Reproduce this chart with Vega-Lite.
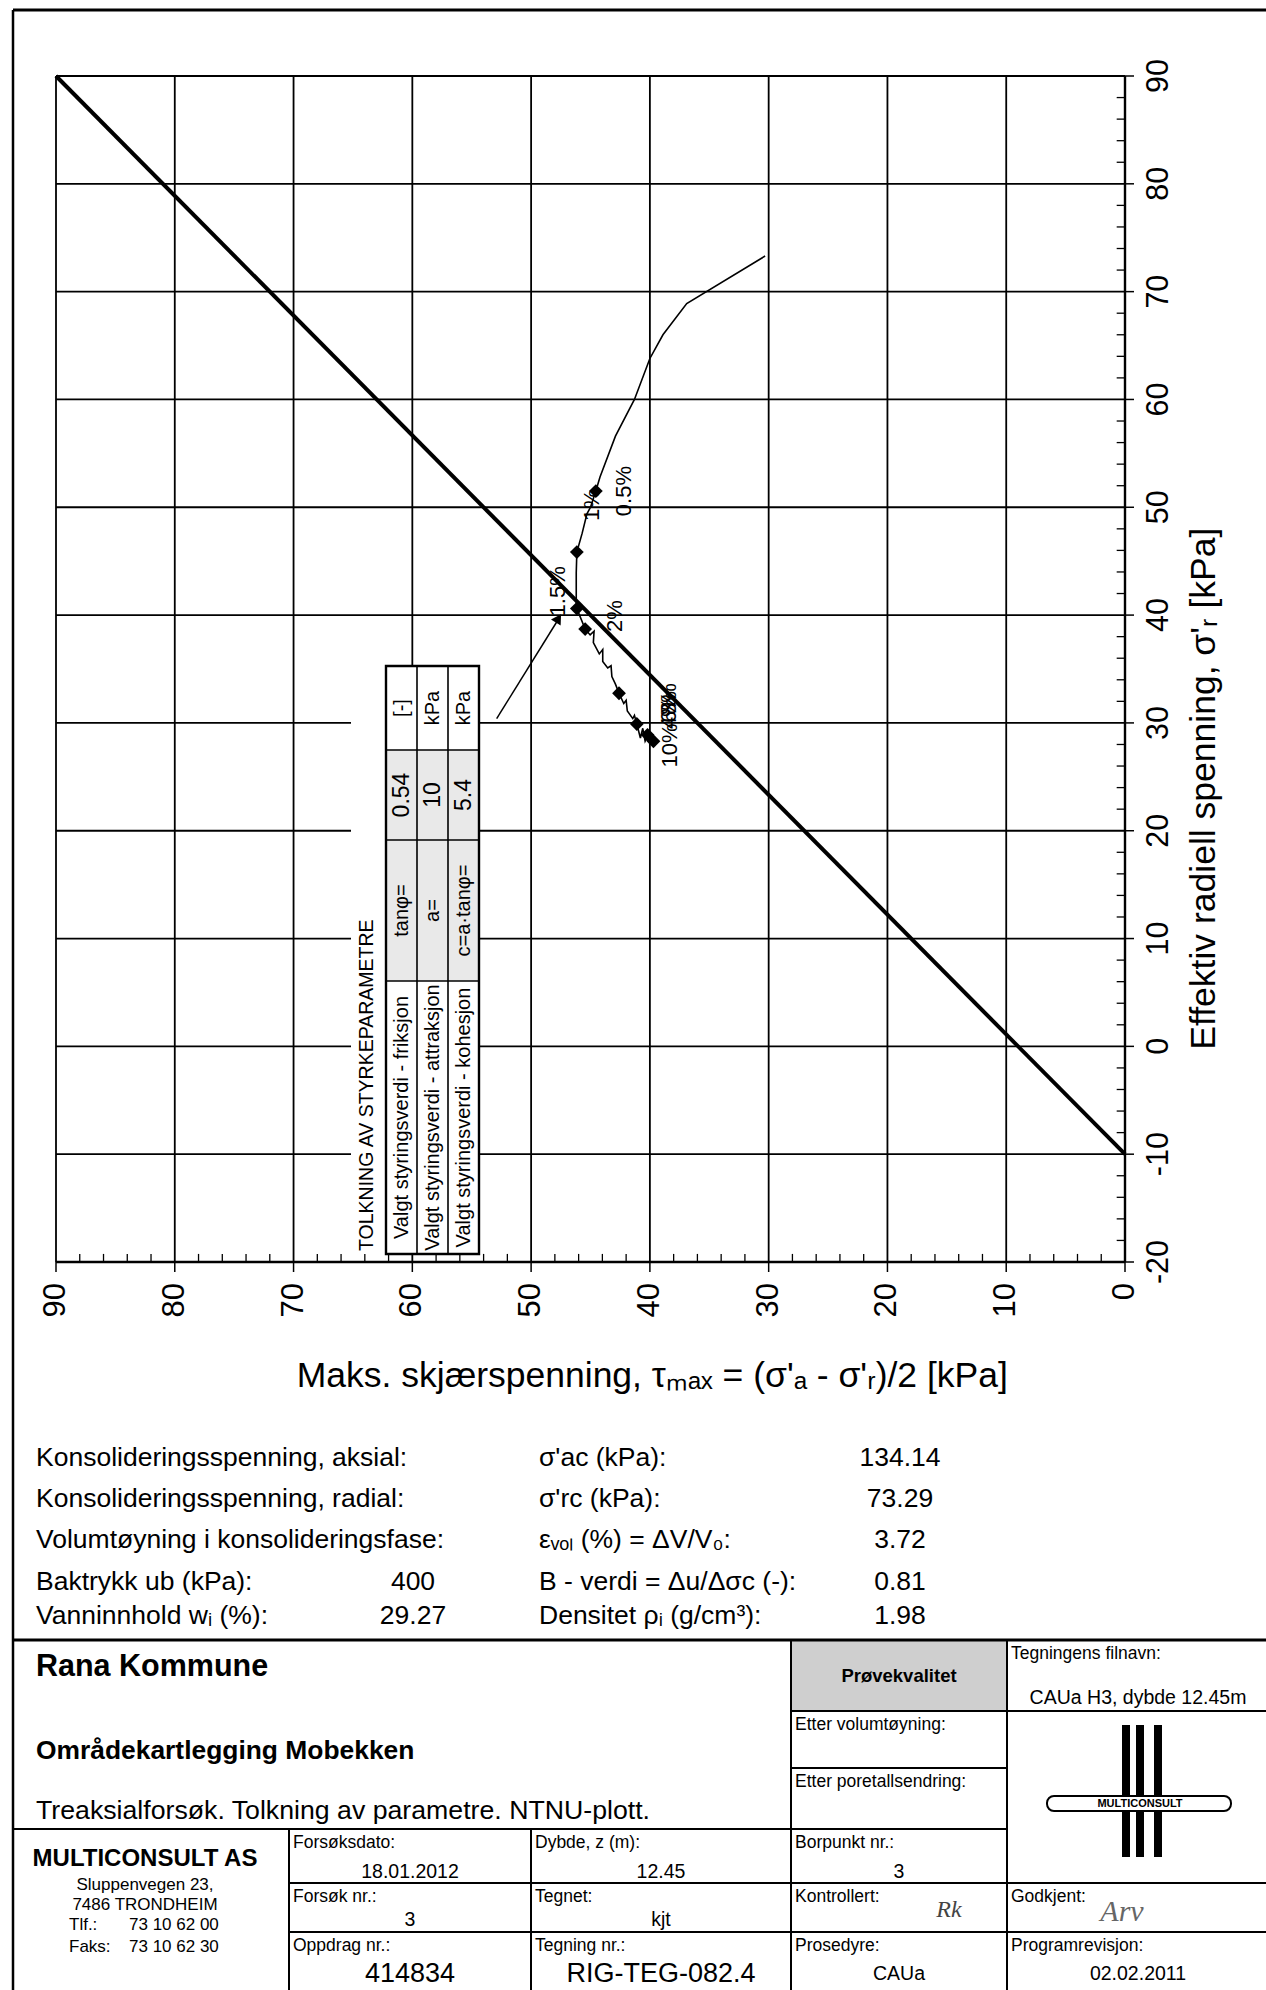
{
"$schema": "https://vega.github.io/schema/vega-lite/v6.json",
"width": 1266, "height": 1990, "autosize": {"type": "none"}, "padding": 0, "background": "white",
"config": {"view": {"stroke": null}, "font": "Liberation Sans", "text": {"font": "Liberation Sans", "color": "black"}},
"datasets": {
"gx": [{"tau":0},{"tau":10},{"tau":20},{"tau":30},{"tau":40},{"tau":50},{"tau":60},{"tau":70},{"tau":80},{"tau":90}],
"gy": [{"sig":-20},{"sig":-10},{"sig":0},{"sig":10},{"sig":20},{"sig":30},{"sig":40},{"sig":50},{"sig":60},{"sig":70},{"sig":80},{"sig":90}],
"mx": [{"tau":2},{"tau":4},{"tau":6},{"tau":8},{"tau":12},{"tau":14},{"tau":16},{"tau":18},{"tau":22},{"tau":24},{"tau":26},{"tau":28},{"tau":32},{"tau":34},{"tau":36},{"tau":38},{"tau":42},{"tau":44},{"tau":46},{"tau":48},{"tau":52},{"tau":54},{"tau":56},{"tau":58},{"tau":62},{"tau":64},{"tau":66},{"tau":68},{"tau":72},{"tau":74},{"tau":76},{"tau":78},{"tau":82},{"tau":84},{"tau":86},{"tau":88}],
"my": [{"sig":-18},{"sig":-16},{"sig":-14},{"sig":-12},{"sig":-8},{"sig":-6},{"sig":-4},{"sig":-2},{"sig":2},{"sig":4},{"sig":6},{"sig":8},{"sig":12},{"sig":14},{"sig":16},{"sig":18},{"sig":22},{"sig":24},{"sig":26},{"sig":28},{"sig":32},{"sig":34},{"sig":36},{"sig":38},{"sig":42},{"sig":44},{"sig":46},{"sig":48},{"sig":52},{"sig":54},{"sig":56},{"sig":58},{"sig":62},{"sig":64},{"sig":66},{"sig":68},{"sig":72},{"sig":74},{"sig":76},{"sig":78},{"sig":82},{"sig":84},{"sig":86},{"sig":88}],
"envelope": [{"tau":90,"sig":90},{"tau":0,"sig":-10}],
"path": [{"tau":30.3,"sig":73.3},{"tau":36.9,"sig":68.9},{"tau":38.9,"sig":66.0},{"tau":40.0,"sig":63.8},{"tau":41.3,"sig":60.0},{"tau":42.9,"sig":56.6},{"tau":44.2,"sig":52.8},{"tau":44.55,"sig":51.5},{"tau":45.0,"sig":50.0},{"tau":45.3,"sig":49.4},{"tau":45.7,"sig":47.6},{"tau":46.15,"sig":45.85},{"tau":46.2,"sig":43.9},{"tau":46.2,"sig":41.4},{"tau":46.15,"sig":40.6},{"tau":45.45,"sig":38.7},{"tau":45.03,"sig":38.16},{"tau":44.7,"sig":38.5},{"tau":44.76,"sig":37.45},{"tau":44.26,"sig":36.4},{"tau":43.97,"sig":36.8},{"tau":43.97,"sig":35.7},{"tau":43.55,"sig":35.1},{"tau":43.27,"sig":35.3},{"tau":43.2,"sig":34.3},{"tau":42.9,"sig":33.6},{"tau":42.6,"sig":32.75},{"tau":42.2,"sig":31.8},{"tau":42.0,"sig":32.1},{"tau":41.9,"sig":31.1},{"tau":41.44,"sig":30.4},{"tau":41.3,"sig":30.7},{"tau":41.1,"sig":29.9},{"tau":40.8,"sig":28.6},{"tau":40.6,"sig":29.5},{"tau":40.4,"sig":28.3},{"tau":40.1,"sig":29.0},{"tau":39.7,"sig":28.3}],
"diamonds": [{"tau":44.55,"sig":51.5},{"tau":46.15,"sig":45.85},{"tau":46.15,"sig":40.6},{"tau":45.45,"sig":38.7},{"tau":42.6,"sig":32.75},{"tau":41.1,"sig":29.9},{"tau":40.2,"sig":28.9},{"tau":39.7,"sig":28.3}],
"strain": [{"tau":42.2,"sig":51.5,"t":"0.5%"},{"tau":44.9,"sig":50.2,"t":"1%"},{"tau":47.7,"sig":42.2,"t":"1.5%"},{"tau":42.9,"sig":39.9,"t":"2%"},{"tau":38.4,"sig":30.9,"t":"4%"},{"tau":38.4,"sig":31.5,"t":"6%"},{"tau":38.4,"sig":32.2,"t":"8%"},{"tau":38.3,"sig":27.9,"t":"10%"}],
"arrow": [{"tau":52.9,"sig":30.4},{"tau":47.6,"sig":39.8}],
"arrowhead": [{"tau":47.7,"sig":39.7}],
"xtitle": [{"t":"Maks. skjærspenning, τₘₐₓ = (σ'ₐ - σ'ᵣ)/2  [kPa]"}],
"ytitle": [{"t":"Effektiv radiell spenning,  σ'ᵣ [kPa]"}],
"ttext": [{"r":0,"c":0,"t":"TOLKNING AV STYRKEPARAMETRE"},
{"r":1,"c":1,"t":"Valgt styringsverdi - friksjon"},{"r":1,"c":2,"t":"tanφ="},{"r":1,"c":3,"t":"0.54"},{"r":1,"c":4,"t":"[-]"},
{"r":2,"c":1,"t":"Valgt styringsverdi - attraksjon"},{"r":2,"c":2,"t":"a="},{"r":2,"c":3,"t":"10"},{"r":2,"c":4,"t":"kPa"},
{"r":3,"c":1,"t":"Valgt styringsverdi - kohesjon"},{"r":3,"c":2,"t":"c=a·tanφ="},{"r":3,"c":3,"t":"5.4"},{"r":3,"c":4,"t":"kPa"}],
"params": [{"line":1,"c":0,"t":"Konsolideringsspenning, aksial:"},{"line":1,"c":2,"t":"σ'ac (kPa):"},{"line":1,"c":3,"t":"134.14"},
{"line":2,"c":0,"t":"Konsolideringsspenning, radial:"},{"line":2,"c":2,"t":"σ'rc (kPa):"},{"line":2,"c":3,"t":"73.29"},
{"line":3,"c":0,"t":"Volumtøyning i konsolideringsfase:"},{"line":3,"c":2,"t":"εᵥₒₗ (%) = ΔV/V₀:"},{"line":3,"c":3,"t":"3.72"},
{"line":4,"c":0,"t":"Baktrykk ub (kPa):"},{"line":4,"c":1,"t":"400"},{"line":4,"c":2,"t":"B - verdi = Δu/Δσc (-):"},{"line":4,"c":3,"t":"0.81"},
{"line":5,"c":0,"t":"Vanninnhold wᵢ (%):"},{"line":5,"c":1,"t":"29.27"},{"line":5,"c":2,"t":"Densitet ρᵢ (g/cm³):"},{"line":5,"c":3,"t":"1.98"}],
"cells": [{"cell":"prosjekt","c0":0,"c1":3,"r0":0,"r1":3,"label":""},
{"cell":"provekvalitet","c0":3,"c1":4,"r0":0,"r1":1,"label":""},
{"cell":"filnavn","c0":4,"c1":5,"r0":0,"r1":1,"label":"Tegningens filnavn:"},
{"cell":"volum","c0":3,"c1":4,"r0":1,"r1":2,"label":"Etter volumtøyning:"},
{"cell":"poretall","c0":3,"c1":4,"r0":2,"r1":3,"label":"Etter poretallsendring:"},
{"cell":"logo","c0":4,"c1":5,"r0":1,"r1":4,"label":""},
{"cell":"firma","c0":0,"c1":1,"r0":3,"r1":6,"label":""},
{"cell":"dato","c0":1,"c1":2,"r0":3,"r1":4,"label":"Forsøksdato:"},
{"cell":"dybde","c0":2,"c1":3,"r0":3,"r1":4,"label":"Dybde, z (m):"},
{"cell":"borpunkt","c0":3,"c1":4,"r0":3,"r1":4,"label":"Borpunkt nr.:"},
{"cell":"forsok","c0":1,"c1":2,"r0":4,"r1":5,"label":"Forsøk nr.:"},
{"cell":"tegnet","c0":2,"c1":3,"r0":4,"r1":5,"label":"Tegnet:"},
{"cell":"kontrollert","c0":3,"c1":4,"r0":4,"r1":5,"label":"Kontrollert:"},
{"cell":"godkjent","c0":4,"c1":5,"r0":4,"r1":5,"label":"Godkjent:"},
{"cell":"oppdrag","c0":1,"c1":2,"r0":5,"r1":6,"label":"Oppdrag nr.:"},
{"cell":"tegningnr","c0":2,"c1":3,"r0":5,"r1":6,"label":"Tegning nr.:"},
{"cell":"prosedyre","c0":3,"c1":4,"r0":5,"r1":6,"label":"Prosedyre:"},
{"cell":"programrev","c0":4,"c1":5,"r0":5,"r1":6,"label":"Programrevisjon:"}],
"vals": [{"c":3,"r":0,"t":"Prøvekvalitet","kind":"heading"},
{"c":4,"r":0,"t":"CAUa H3, dybde  12.45m","kind":"value"},
{"c":1,"r":3,"t":"18.01.2012","kind":"value"},
{"c":2,"r":3,"t":"12.45","kind":"value"},
{"c":3,"r":3,"t":"3","kind":"value"},
{"c":1,"r":4,"t":"3","kind":"value"},
{"c":2,"r":4,"t":"kjt","kind":"value"},
{"c":3,"r":4,"t":"Rk","kind":"sign1"},
{"c":4,"r":4,"t":"Arv","kind":"sign2"},
{"c":1,"r":5,"t":"414834","kind":"number"},
{"c":2,"r":5,"t":"RIG-TEG-082.4","kind":"number"},
{"c":3,"r":5,"t":"CAUa","kind":"value"},
{"c":4,"r":5,"t":"02.02.2011","kind":"value"}],
"info": [{"a":0,"line":1,"t":"Rana Kommune","kind":"h1"},
{"a":0,"line":2,"t":"Områdekartlegging Mobekken","kind":"h2"},
{"a":0,"line":3,"t":"Treaksialforsøk. Tolkning av parametre. NTNU-plott.","kind":"h3"},
{"a":3,"line":4,"t":"MULTICONSULT AS","kind":"firm"},
{"a":3,"line":5,"t":"Sluppenvegen 23,","kind":"addr"},
{"a":3,"line":6,"t":"7486  TRONDHEIM","kind":"addr"},
{"a":1,"line":7,"t":"Tlf.:","kind":"tel"},
{"a":2,"line":7,"t":"73 10 62 00","kind":"tel"},
{"a":1,"line":8,"t":"Faks:","kind":"tel"},
{"a":2,"line":8,"t":"73 10 62 30","kind":"tel"}],
"bars": [{"k":1},{"k":2},{"k":3}]
},
"layer": [
{
"layer": [
{"data":{"name":"gx"},"mark":{"type":"rule","color":"black","strokeWidth":1.8},
"encoding":{
"x":{"field":"tau","type":"quantitative","scale":{"domain":[0,90],"range":[1125,56],"nice":false,"zero":false},"axis":null},
"y":{"datum":-20,"type":"quantitative","scale":{"domain":[-20,90],"range":[1262,76],"nice":false,"zero":false},"axis":null},
"y2":{"datum":90}}},
{"data":{"name":"gy"},"mark":{"type":"rule","color":"black","strokeWidth":1.8},
"encoding":{"y":{"field":"sig","type":"quantitative","axis":null},"x":{"datum":0,"type":"quantitative","axis":null},"x2":{"datum":90}}},
{"data":{"values":[{}]},"mark":{"type":"rule","color":"black","strokeWidth":2.4},
"encoding":{"y":{"datum":-20,"type":"quantitative","axis":null},"x":{"datum":0,"type":"quantitative","axis":null},"x2":{"datum":90}}},
{"data":{"values":[{}]},"mark":{"type":"rule","color":"black","strokeWidth":2.4},
"encoding":{"x":{"datum":0,"type":"quantitative","axis":null},"y":{"datum":-20,"type":"quantitative","axis":null},"y2":{"datum":90}}},
{"data":{"name":"gx"},"mark":{"type":"rule","color":"black","strokeWidth":1.5},
"encoding":{"x":{"field":"tau","type":"quantitative","axis":null},"y":{"datum":-20,"type":"quantitative","axis":null},"y2":{"datum":-20.93}}},
{"data":{"name":"gy"},"mark":{"type":"rule","color":"black","strokeWidth":1.5},
"encoding":{"y":{"field":"sig","type":"quantitative","axis":null},"x":{"datum":0,"type":"quantitative","axis":null},"x2":{"datum":-0.76}}},
{"data":{"name":"mx"},"mark":{"type":"rule","color":"black","strokeWidth":1.3},
"encoding":{"x":{"field":"tau","type":"quantitative","axis":null},"y":{"datum":-20,"type":"quantitative","axis":null},"y2":{"datum":-19.25}}},
{"data":{"name":"my"},"mark":{"type":"rule","color":"black","strokeWidth":1.3},
"encoding":{"y":{"field":"sig","type":"quantitative","axis":null},"x":{"datum":0,"type":"quantitative","axis":null},"x2":{"datum":0.7}}},
{"data":{"name":"gx"},"mark":{"type":"text","angle":270,"align":"right","baseline":"middle","fontSize":31},
"encoding":{"x":{"field":"tau","type":"quantitative","axis":null},"y":{"datum":-21.95,"type":"quantitative","axis":null},"text":{"field":"tau","type":"quantitative","format":"d"}}},
{"data":{"name":"gy"},"mark":{"type":"text","angle":270,"align":"center","baseline":"top","fontSize":30.5},
"encoding":{"y":{"field":"sig","type":"quantitative","axis":null},"x":{"datum":-1.6,"type":"quantitative","axis":null},"text":{"field":"sig","type":"nominal"}}},
{"data":{"name":"xtitle"},"mark":{"type":"text","align":"center","baseline":"alphabetic","fontSize":35.5},
"encoding":{"x":{"datum":39.8,"type":"quantitative","axis":null},"y":{"datum":-31.55,"type":"quantitative","axis":null},"text":{"field":"t"}}},
{"data":{"name":"ytitle"},"mark":{"type":"text","angle":270,"align":"center","baseline":"alphabetic","fontSize":35.5},
"encoding":{"x":{"datum":-7.6,"type":"quantitative","axis":null},"y":{"datum":23.9,"type":"quantitative","axis":null},"text":{"field":"t"}}},
{"data":{"name":"envelope"},"mark":{"type":"line","color":"black","strokeWidth":4},
"encoding":{"x":{"field":"tau","type":"quantitative","axis":null},"y":{"field":"sig","type":"quantitative","axis":null}}},
{"data":{"name":"path"},"mark":{"type":"line","color":"black","strokeWidth":1.6},
"encoding":{"x":{"field":"tau","type":"quantitative","axis":null},"y":{"field":"sig","type":"quantitative","axis":null},"order":{"value":null}}},
{"data":{"name":"diamonds"},"mark":{"type":"point","shape":"diamond","filled":true,"color":"black","size":190,"opacity":1},
"encoding":{"x":{"field":"tau","type":"quantitative","axis":null},"y":{"field":"sig","type":"quantitative","axis":null}}},
{"data":{"name":"strain"},"mark":{"type":"text","angle":270,"align":"center","baseline":"middle","fontSize":22},
"encoding":{"x":{"field":"tau","type":"quantitative","axis":null},"y":{"field":"sig","type":"quantitative","axis":null},"text":{"field":"t"}}},
{"data":{"name":"arrow"},"mark":{"type":"line","color":"black","strokeWidth":1.5},
"encoding":{"x":{"field":"tau","type":"quantitative","axis":null},"y":{"field":"sig","type":"quantitative","axis":null},"order":{"value":null}}},
{"data":{"name":"arrowhead"},"mark":{"type":"point","shape":"triangle-up","filled":true,"color":"black","size":130,"angle":32,"opacity":1},
"encoding":{"x":{"field":"tau","type":"quantitative","axis":null},"y":{"field":"sig","type":"quantitative","axis":null}}}
]
},
{
"layer": [
{"data":{"values":[{}]},"mark":{"type":"rect","fill":"white"},
"encoding":{"x":{"datum":-1,"type":"quantitative","scale":{"domain":[-1,0,1,2,3],"range":[351,386,417,448,479],"nice":false,"zero":false},"axis":null},"x2":{"datum":3},
"y":{"datum":0,"type":"quantitative","scale":{"domain":[0,1,2,3,4],"range":[1254,981,840,750,666],"nice":false,"zero":false},"axis":null},"y2":{"datum":4}}},
{"data":{"values":[{}]},"mark":{"type":"rect","fill":"#e9e9e9"},
"encoding":{"x":{"datum":0,"type":"quantitative","axis":null},"x2":{"datum":3},"y":{"datum":1,"type":"quantitative","axis":null},"y2":{"datum":3}}},
{"data":{"values":[{"k":1},{"k":2}]},"mark":{"type":"rule","color":"black","strokeWidth":1.6},
"encoding":{"x":{"field":"k","type":"quantitative","axis":null},"y":{"datum":0,"type":"quantitative","axis":null},"y2":{"datum":4}}},
{"data":{"values":[{"k":1},{"k":2},{"k":3}]},"mark":{"type":"rule","color":"black","strokeWidth":1.6},
"encoding":{"y":{"field":"k","type":"quantitative","axis":null},"x":{"datum":0,"type":"quantitative","axis":null},"x2":{"datum":3}}},
{"data":{"values":[{}]},"mark":{"type":"rect","fillOpacity":0,"stroke":"black","strokeWidth":2.4},
"encoding":{"x":{"datum":0,"type":"quantitative","axis":null},"x2":{"datum":3},"y":{"datum":0,"type":"quantitative","axis":null},"y2":{"datum":4}}}
]
},
{
"data":{"name":"ttext"},
"layer": [
{"transform":[{"filter":"datum.r == 0"}],"mark":{"type":"text","angle":270,"align":"left","baseline":"middle","fontSize":19.5},
"encoding":{"x":{"field":"r","type":"quantitative","scale":{"domain":[0,1,2,3],"range":[367,401.5,432.5,463.5],"nice":false,"zero":false},"axis":null},
"y":{"field":"c","type":"quantitative","scale":{"domain":[0,1,2,3,4],"range":[1251,1117.5,910.5,795,708],"nice":false,"zero":false},"axis":null},"text":{"field":"t"}}},
{"transform":[{"filter":"datum.r > 0 && datum.c != 3"}],"mark":{"type":"text","angle":270,"align":"center","baseline":"middle","fontSize":20},
"encoding":{"x":{"field":"r","type":"quantitative","axis":null},"y":{"field":"c","type":"quantitative","axis":null},"text":{"field":"t"}}},
{"transform":[{"filter":"datum.r > 0 && datum.c == 3"}],"mark":{"type":"text","angle":270,"align":"center","baseline":"middle","fontSize":23},
"encoding":{"x":{"field":"r","type":"quantitative","axis":null},"y":{"field":"c","type":"quantitative","axis":null},"text":{"field":"t"}}}
]
},
{
"data":{"name":"params"},
"layer": [
{"transform":[{"filter":"datum.c == 0 || datum.c == 2"}],"mark":{"type":"text","align":"left","baseline":"middle","fontSize":26.5},
"encoding":{"x":{"field":"c","type":"quantitative","scale":{"domain":[0,1,2,3],"range":[36,413,539,900],"nice":false,"zero":false},"axis":null},
"y":{"field":"line","type":"quantitative","scale":{"domain":[1,2,3,4,5],"range":[1458,1499,1540,1582,1616],"nice":false,"zero":false},"axis":null},"text":{"field":"t"}}},
{"transform":[{"filter":"datum.c == 1 || datum.c == 3"}],"mark":{"type":"text","align":"center","baseline":"middle","fontSize":26.5},
"encoding":{"x":{"field":"c","type":"quantitative","axis":null},"y":{"field":"line","type":"quantitative","axis":null},"text":{"field":"t"}}}
]
},
{
"layer": [
{"data":{"name":"cells"},"transform":[{"filter":"datum.cell == 'provekvalitet'"}],"mark":{"type":"rect","fill":"#cfcfcf"},
"encoding":{"x":{"field":"c0","type":"quantitative","scale":{"domain":[0,1,2,3,4,5],"range":[13,289,531,791,1007,1268],"nice":false,"zero":false},"axis":null},"x2":{"field":"c1"},
"y":{"field":"r0","type":"quantitative","scale":{"domain":[-1,0,1,2,3,4,5,6],"range":[10,1640,1711,1768,1829,1883,1932,1992],"nice":false,"zero":false},"axis":null},"y2":{"field":"r1"}}},
{"data":{"name":"cells"},"mark":{"type":"rect","fillOpacity":0,"stroke":"black","strokeWidth":2},
"encoding":{"x":{"field":"c0","type":"quantitative","axis":null},"x2":{"field":"c1"},"y":{"field":"r0","type":"quantitative","axis":null},"y2":{"field":"r1"}}},
{"data":{"name":"cells"},"transform":[{"filter":"datum.label != ''"}],"mark":{"type":"text","align":"left","baseline":"top","dx":4,"dy":5,"fontSize":17.5},
"encoding":{"x":{"field":"c0","type":"quantitative","axis":null},"y":{"field":"r0","type":"quantitative","axis":null},"text":{"field":"label"}}},
{"data":{"values":[{}]},"mark":{"type":"rule","color":"black","strokeWidth":3},
"encoding":{"x":{"datum":0,"type":"quantitative","axis":null},"x2":{"datum":5},"y":{"datum":-1,"type":"quantitative","axis":null}}},
{"data":{"values":[{}]},"mark":{"type":"rule","color":"black","strokeWidth":3},
"encoding":{"x":{"datum":0,"type":"quantitative","axis":null},"x2":{"datum":5},"y":{"datum":0,"type":"quantitative","axis":null}}},
{"data":{"values":[{}]},"mark":{"type":"rule","color":"black","strokeWidth":2.5},
"encoding":{"x":{"datum":0,"type":"quantitative","axis":null},"y":{"datum":-1,"type":"quantitative","axis":null},"y2":{"datum":6}}}
]
},
{
"data":{"name":"vals"},
"layer": [
{"transform":[{"filter":"datum.kind == 'value'"}],"mark":{"type":"text","align":"center","baseline":"middle","fontSize":19.5},
"encoding":{"x":{"field":"c","type":"quantitative","scale":{"domain":[0,1,2,3,4],"range":[151,410,661,899,1138],"nice":false,"zero":false},"axis":null},
"y":{"field":"r","type":"quantitative","scale":{"domain":[0,3,4,5],"range":[1698,1872,1920,1974],"nice":false,"zero":false},"axis":null},"text":{"field":"t"}}},
{"transform":[{"filter":"datum.kind == 'number'"}],"mark":{"type":"text","align":"center","baseline":"middle","fontSize":27},
"encoding":{"x":{"field":"c","type":"quantitative","axis":null},"y":{"field":"r","type":"quantitative","axis":null},"text":{"field":"t"}}},
{"transform":[{"filter":"datum.kind == 'heading'"}],"mark":{"type":"text","align":"center","baseline":"middle","fontSize":18.5,"fontWeight":"bold","dy":-22},
"encoding":{"x":{"field":"c","type":"quantitative","axis":null},"y":{"field":"r","type":"quantitative","axis":null},"text":{"field":"t"}}},
{"transform":[{"filter":"datum.kind == 'sign1'"}],"mark":{"type":"text","align":"center","baseline":"middle","fontSize":24,"fontStyle":"italic","font":"Liberation Serif","color":"#444","dx":50,"dy":-10},
"encoding":{"x":{"field":"c","type":"quantitative","axis":null},"y":{"field":"r","type":"quantitative","axis":null},"text":{"field":"t"}}},
{"transform":[{"filter":"datum.kind == 'sign2'"}],"mark":{"type":"text","align":"center","baseline":"middle","fontSize":30,"fontStyle":"italic","font":"Liberation Serif","color":"#666","dx":-16,"dy":-8},
"encoding":{"x":{"field":"c","type":"quantitative","axis":null},"y":{"field":"r","type":"quantitative","axis":null},"text":{"field":"t"}}}
]
},
{
"data":{"name":"info"},
"layer": [
{"transform":[{"filter":"datum.kind == 'h1'"}],"mark":{"type":"text","align":"left","baseline":"middle","fontSize":30.5,"fontWeight":"bold"},
"encoding":{"x":{"field":"a","type":"quantitative","scale":{"domain":[0,1,2,3],"range":[36,69,129,145],"nice":false,"zero":false},"axis":null},
"y":{"field":"line","type":"quantitative","scale":{"domain":[1,2,3,4,5,6,7,8],"range":[1667,1751,1811,1859,1885,1905,1925,1947],"nice":false,"zero":false},"axis":null},"text":{"field":"t"}}},
{"transform":[{"filter":"datum.kind == 'h2'"}],"mark":{"type":"text","align":"left","baseline":"middle","fontSize":26.4,"fontWeight":"bold"},
"encoding":{"x":{"field":"a","type":"quantitative","axis":null},"y":{"field":"line","type":"quantitative","axis":null},"text":{"field":"t"}}},
{"transform":[{"filter":"datum.kind == 'h3'"}],"mark":{"type":"text","align":"left","baseline":"middle","fontSize":26.7},
"encoding":{"x":{"field":"a","type":"quantitative","axis":null},"y":{"field":"line","type":"quantitative","axis":null},"text":{"field":"t"}}},
{"transform":[{"filter":"datum.kind == 'firm'"}],"mark":{"type":"text","align":"center","baseline":"middle","fontSize":24,"fontWeight":"bold"},
"encoding":{"x":{"field":"a","type":"quantitative","axis":null},"y":{"field":"line","type":"quantitative","axis":null},"text":{"field":"t"}}},
{"transform":[{"filter":"datum.kind == 'addr'"}],"mark":{"type":"text","align":"center","baseline":"middle","fontSize":17},
"encoding":{"x":{"field":"a","type":"quantitative","axis":null},"y":{"field":"line","type":"quantitative","axis":null},"text":{"field":"t"}}},
{"transform":[{"filter":"datum.kind == 'tel'"}],"mark":{"type":"text","align":"left","baseline":"middle","fontSize":17},
"encoding":{"x":{"field":"a","type":"quantitative","axis":null},"y":{"field":"line","type":"quantitative","axis":null},"text":{"field":"t"}}}
]
},
{
"layer": [
{"data":{"name":"bars"},"mark":{"type":"rule","color":"black","strokeWidth":8},
"encoding":{"x":{"field":"k","type":"quantitative","scale":{"domain":[0,1,2,3,4],"range":[1047,1126,1140,1158,1231],"nice":false,"zero":false},"axis":null},
"y":{"datum":0,"type":"quantitative","scale":{"domain":[0,1,2,3],"range":[1725,1796,1811,1857],"nice":false,"zero":false},"axis":null},"y2":{"datum":3}}},
{"data":{"values":[{}]},"mark":{"type":"rect","fill":"white","stroke":"black","strokeWidth":2,"cornerRadius":7},
"encoding":{"x":{"datum":0,"type":"quantitative","axis":null},"x2":{"datum":4},"y":{"datum":1,"type":"quantitative","axis":null},"y2":{"datum":2}}},
{"data":{"values":[{"t":"MULTICONSULT"}]},"mark":{"type":"text","align":"center","baseline":"middle","fontSize":11,"fontWeight":"bold"},
"encoding":{"x":{"datum":2,"type":"quantitative","axis":null},"y":{"datum":1.5,"type":"quantitative","axis":null},"text":{"field":"t"}}}
]
}
],
"resolve": {"scale": {"x": "independent", "y": "independent"}}
}
